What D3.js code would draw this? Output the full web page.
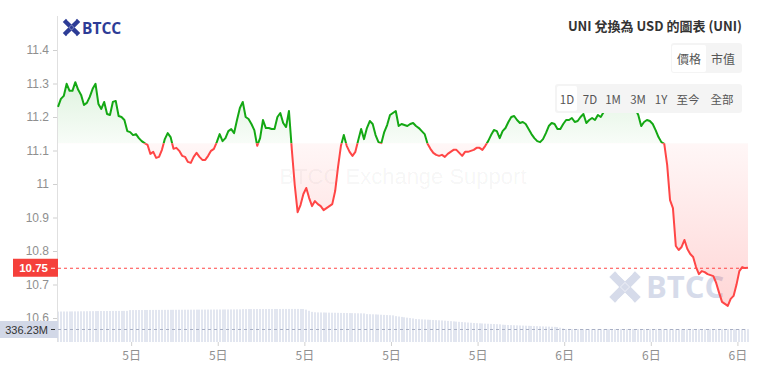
<!DOCTYPE html>
<html><head><meta charset="utf-8">
<script src="https://cdn.jsdelivr.net/npm/d3@7"></script>
<style>
html,body{margin:0;padding:0;background:#fff;}
svg{display:block;font-family:"Liberation Sans",Arial,"Noto Sans CJK TC",sans-serif;}
</style></head>
<body><svg id="c" width="759" height="379"></svg>
<script>
// ---- data ----
const titleText = "UNI 兌換為 USD 的圖表 (UNI)";
const priceTabs = ["價格", "市值"];
const rangeTabs = ["1D", "7D", "1M", "3M", "1Y", "至今", "全部"];
const yTicks = [10.6, 10.7, 10.8, 10.9, 11, 11.1, 11.2, 11.3, 11.4];
const xTickLabels = ["5日", "5日", "5日", "5日", "5日", "6日", "6日", "6日"];
const baseValue = 11.122;
const prices = [
11.230,11.254,11.263,11.299,11.278,11.278,11.304,11.281,11.266,11.236,
11.242,11.260,11.284,11.299,11.239,11.224,11.245,11.209,11.206,11.245,
11.248,11.203,11.200,11.191,11.158,11.155,11.146,11.149,11.137,11.128,
11.122,11.117,11.090,11.096,11.078,11.081,11.102,11.134,11.152,11.140,
11.105,11.108,11.099,11.084,11.081,11.066,11.063,11.081,11.093,11.081,
11.072,11.072,11.084,11.099,11.105,11.125,11.149,11.128,11.137,11.158,
11.164,11.152,11.191,11.227,11.245,11.200,11.194,11.179,11.161,11.114,
11.137,11.191,11.167,11.167,11.164,11.164,11.200,11.212,11.182,11.170,
11.218,11.102,10.997,10.916,10.937,10.970,10.988,10.958,10.934,10.949,
10.940,10.934,10.922,10.928,10.934,10.940,10.979,11.051,11.114,11.146,
11.114,11.096,11.084,11.096,11.131,11.164,11.134,11.167,11.188,11.179,
11.146,11.125,11.122,11.155,11.176,11.206,11.212,11.218,11.173,11.179,
11.176,11.173,11.179,11.182,11.173,11.167,11.158,11.149,11.120,11.105,
11.093,11.087,11.084,11.087,11.081,11.090,11.096,11.102,11.102,11.093,
11.084,11.096,11.096,11.099,11.102,11.108,11.108,11.102,11.114,11.128,
11.146,11.161,11.158,11.137,11.158,11.167,11.185,11.200,11.203,11.191,
11.182,11.185,11.179,11.164,11.149,11.137,11.128,11.125,11.134,11.152,
11.173,11.182,11.179,11.164,11.164,11.179,11.191,11.191,11.197,11.185,
11.188,11.200,11.209,11.182,11.191,11.197,11.191,11.206,11.200,11.215,
11.224,11.230,11.221,11.233,11.239,11.230,11.242,11.236,11.245,11.239,
11.224,11.206,11.173,11.185,11.191,11.188,11.179,11.161,11.140,11.125,
11.120,11.057,10.952,10.928,10.815,10.803,10.812,10.833,10.806,10.791,
10.782,10.752,10.731,10.740,10.737,10.731,10.728,10.725,10.704,10.675,
10.648,10.642,10.636,10.657,10.666,10.699,10.740,10.752,10.749,10.750
];
const volumes = [ // millions
788,789,790,790,791,792,793,794,795,796,797,798,799,800,801,
802,802,803,803,804,804,805,805,806,806,
826,827,827,828,828,829,829,830,830,831,831,832,832,833,833,834,834,835,835,836,
836,837,837,838,838,839,839,840,840,841,841,842,842,843,843,844,844,845,845,
852,852,853,853,853,854,854,854,854,855,855,855,855,855,856,856,856,856,856,856,855,855,
838,808,780,770,
766,765,764,762,760,758,757,755,753,752,750,748,747,745,743,742,740,
722,720,717,714,710,706,702,698,694,690,
670,660,650,640,630,620,610,
595,590,586,582,578,574,570,566,562,558,552,546,540,534,528,522,516,510,504,498,492,488,484,480,476,472,468,465,462,458,
448,444,440,437,434,431,428,425,422,419,416,413,410,407,404,401,398,395,392,389,
370,350,
338,338,338,337,337,337,337,337,337,337,337,337,337,337,337,337,
337,337,337,337,336,336,336,336,336,336,336,336,336,336,336,336,
336,336,336,336,336,336,336,336,336,336,336,336,336,336,336,336,
336,336,336,336,336,336,336,336,336,336,336,336,336,336,336,336.23
];
const startTime = new Date(2024, 0, 5, 6, 28);
const stepMin = 6;

// ---- chart ----
const svg = d3.select("#c");
const W = 759, H = 379;
const left = 58, right = 748;
const times = prices.map((_, i) => new Date(startTime.getTime() + i * stepMin * 60000));
const x = d3.scaleTime().domain([times[0], times[times.length - 1]]).range([left, right]);
const y = d3.scaleLinear().domain([10.6, 11.4]).range([318, 50]);
const yv = d3.scaleLinear().domain([0, 880]).range([342, 308]);
const yBase = y(baseValue);
const green = "#14a814", red = "#ff4646";

const defs = svg.append("defs");
const gg = defs.append("linearGradient").attr("id", "gGreen").attr("gradientUnits", "userSpaceOnUse")
  .attr("x1", 0).attr("x2", 0).attr("y1", 70).attr("y2", yBase);
gg.append("stop").attr("offset", 0).attr("stop-color", "#17a817").attr("stop-opacity", 0.16);
gg.append("stop").attr("offset", 1).attr("stop-color", "#17a817").attr("stop-opacity", 0.03);
const gr = defs.append("linearGradient").attr("id", "gRed").attr("gradientUnits", "userSpaceOnUse")
  .attr("x1", 0).attr("x2", 0).attr("y1", yBase).attr("y2", 310);
gr.append("stop").attr("offset", 0).attr("stop-color", "#ff3030").attr("stop-opacity", 0.04);
gr.append("stop").attr("offset", 1).attr("stop-color", "#ff3030").attr("stop-opacity", 0.2);
defs.append("clipPath").attr("id", "clipUp").append("rect").attr("x", 0).attr("y", 0).attr("width", W).attr("height", yBase);
defs.append("clipPath").attr("id", "clipDown").append("rect").attr("x", 0).attr("y", yBase).attr("width", W).attr("height", H - yBase);

// logo helper: X made of four chevron arms
function logoIcon(g, cx, cy, s, color) {
  const h = s / 2;
  const arms = [[-1, -1], [1, -1], [-1, 1], [1, 1]];
  arms.forEach(([dx, dy]) => {
    g.append("line").attr("x1", cx + dx * h * 0.95).attr("y1", cy + dy * h * 0.95)
      .attr("x2", cx + dx * h * 0.18).attr("y2", cy + dy * h * 0.18)
      .attr("stroke", color).attr("stroke-width", s * 0.3).attr("stroke-linecap", "butt");
  });
  g.append("path").attr("d", `M${cx},${cy - s*0.16}L${cx + s*0.16},${cy}L${cx},${cy + s*0.16}L${cx - s*0.16},${cy}Z`).attr("fill", color);
  g.append("path").attr("d", `M${cx - h*0.6},${cy - h}L${cx},${cy - h*0.45}L${cx + h*0.6},${cy - h}Z M${cx - h*0.6},${cy + h}L${cx},${cy + h*0.45}L${cx + h*0.6},${cy + h}Z`).attr("fill", "#fff");
}

// watermarks
svg.append("text").attr("x", 403).attr("y", 184).attr("text-anchor", "middle")
  .attr("font-size", 22).attr("fill", "#000").attr("fill-opacity", 0.05).text("BTCC Exchange Support");
const wm = svg.append("g").attr("opacity", 0.75);
logoIcon(wm, 625, 287, 27, "#c9d0e4");
wm.append("text").attr("x", 646).attr("y", 298).attr("font-size", 31).attr("font-weight", "bold")
  .attr("fill", "#c9d0e4").attr("font-family", "'Open Sans','Liberation Sans',sans-serif").text("BTCC");

// areas
const area = d3.area().x((d, i) => x(times[i])).y0(yBase).y1(d => y(d));
svg.append("path").datum(prices).attr("d", area).attr("fill", "url(#gGreen)").attr("clip-path", "url(#clipUp)");
svg.append("path").datum(prices).attr("d", area).attr("fill", "url(#gRed)").attr("clip-path", "url(#clipDown)");

// volume bars
svg.append("g").selectAll("rect").data(volumes).join("rect")
  .attr("x", (d, i) => Math.round(x(times[i])) - 0.5).attr("width", 1)
  .attr("y", d => yv(d)).attr("height", d => 342 - yv(d))
  .attr("fill", "#c6cde1");

// y axis
const yAxis = d3.axisLeft(y).tickValues(yTicks).tickSize(4).tickPadding(4).tickFormat(d => String(+d.toFixed(1)));
const ya = svg.append("g").attr("transform", `translate(${left - 1},0)`).call(yAxis);
ya.select(".domain").remove();
ya.selectAll("line").attr("stroke", "#cfcfcf");
ya.selectAll("text").attr("fill", "#8f8f8f").attr("font-size", 12);
svg.append("line").attr("x1", left - 0.5).attr("x2", left - 0.5).attr("y1", 16).attr("y2", 342).attr("stroke", "#e0e0e0");

// x axis
const xAxis = d3.axisBottom(x).ticks(d3.timeHour.every(3)).tickSize(4).tickPadding(5)
  .tickFormat((d, i) => xTickLabels[i]);
const xa = svg.append("g").attr("transform", "translate(0,342)").call(xAxis);
xa.select(".domain").remove();
xa.selectAll("line").attr("stroke", "#d0d0d0");
xa.selectAll("text").attr("fill", "#8f8f8f").attr("font-size", 12).attr("font-family", "'Noto Sans CJK TC',sans-serif");

// reference lines
const last = prices[prices.length - 1];
const lastVol = volumes[volumes.length - 1];
svg.append("line").attr("x1", left).attr("x2", right).attr("y1", y(last) + 0.5).attr("y2", y(last) + 0.5)
  .attr("stroke", red).attr("stroke-dasharray", "3,3").attr("stroke-width", 1);
svg.append("line").attr("x1", left).attr("x2", right).attr("y1", Math.round(yv(lastVol)) + 0.5).attr("y2", Math.round(yv(lastVol)) + 0.5)
  .attr("stroke", "#a9b0c4").attr("stroke-dasharray", "3,3").attr("stroke-width", 1);

// price line
const line = d3.line().x((d, i) => x(times[i])).y(d => y(d));
svg.append("path").datum(prices).attr("d", line).attr("fill", "none").attr("stroke", green)
  .attr("stroke-width", 2).attr("stroke-linejoin", "round").attr("clip-path", "url(#clipUp)");
svg.append("path").datum(prices).attr("d", line).attr("fill", "none").attr("stroke", red)
  .attr("stroke-width", 2).attr("stroke-linejoin", "round").attr("clip-path", "url(#clipDown)");

// last price label
const ly = y(last);
svg.append("rect").attr("x", 13).attr("y", ly - 9).attr("width", left - 13).attr("height", 18).attr("fill", "#f5403b");
svg.append("text").attr("x", 48).attr("y", ly + 4.5).attr("text-anchor", "end").attr("font-size", 11.5)
  .attr("font-weight", "bold").attr("fill", "#fff").text(d3.format(".2f")(last));
svg.append("line").attr("x1", 51).attr("x2", 55).attr("y1", ly + 0.5).attr("y2", ly + 0.5).attr("stroke", "#fff");

// volume label
const vy = Math.round(yv(lastVol)) + 0.5;
svg.append("rect").attr("x", 0).attr("y", vy - 8.5).attr("width", left).attr("height", 17).attr("fill", "#d2d8e7");
svg.append("text").attr("x", 48).attr("y", vy + 4).attr("text-anchor", "end").attr("font-size", 11)
  .attr("fill", "#333").text(d3.format(".2f")(lastVol) + "M");
svg.append("line").attr("x1", 51).attr("x2", 55).attr("y1", vy).attr("y2", vy).attr("stroke", "#333");

// top-left logo
const lg = svg.append("g");
logoIcon(lg, 71.5, 27.5, 15, "#2d3c96");
lg.append("text").attr("x", 82).attr("y", 34).attr("font-size", 15.5).attr("font-weight", "bold")
  .attr("fill", "#2d3c96").attr("font-family", "'Open Sans','Liberation Sans',sans-serif").text("BTCC");

// title
svg.append("text").attr("x", 742).attr("y", 31).attr("text-anchor", "end").attr("font-size", 13)
  .attr("font-weight", 600).attr("fill", "#333").attr("font-family", "'Noto Sans CJK TC',sans-serif").text(titleText);

// price/market tabs
svg.append("rect").attr("x", 671).attr("y", 43).attr("width", 71).attr("height", 30).attr("rx", 3).attr("fill", "#f4f4f4");
svg.append("rect").attr("x", 672).attr("y", 45).attr("width", 34).attr("height", 27).attr("rx", 2).attr("fill", "#fff");
const ptX = [689, 723];
svg.append("g").selectAll("text").data(priceTabs).join("text")
  .attr("x", (d, i) => ptX[i]).attr("y", 63.5).attr("text-anchor", "middle").attr("font-size", 12)
  .attr("fill", "#555").attr("font-family", "'Noto Sans CJK TC',sans-serif").text(d => d);

// range tabs
svg.append("rect").attr("x", 555).attr("y", 84).attr("width", 187).attr("height", 29).attr("rx", 3).attr("fill", "#f4f4f4");
svg.append("rect").attr("x", 557).attr("y", 86).attr("width", 20).attr("height", 25).attr("rx", 2).attr("fill", "#fff");
const rtX = [567, 590, 613, 638, 661, 688, 722];
svg.append("g").selectAll("text").data(rangeTabs).join("text")
  .attr("x", (d, i) => rtX[i]).attr("y", 103.5).attr("text-anchor", "middle").attr("font-size", 11.5)
  .attr("fill", "#555").attr("font-family", "'Noto Sans CJK TC',sans-serif").text(d => d);
</script></body></html>
